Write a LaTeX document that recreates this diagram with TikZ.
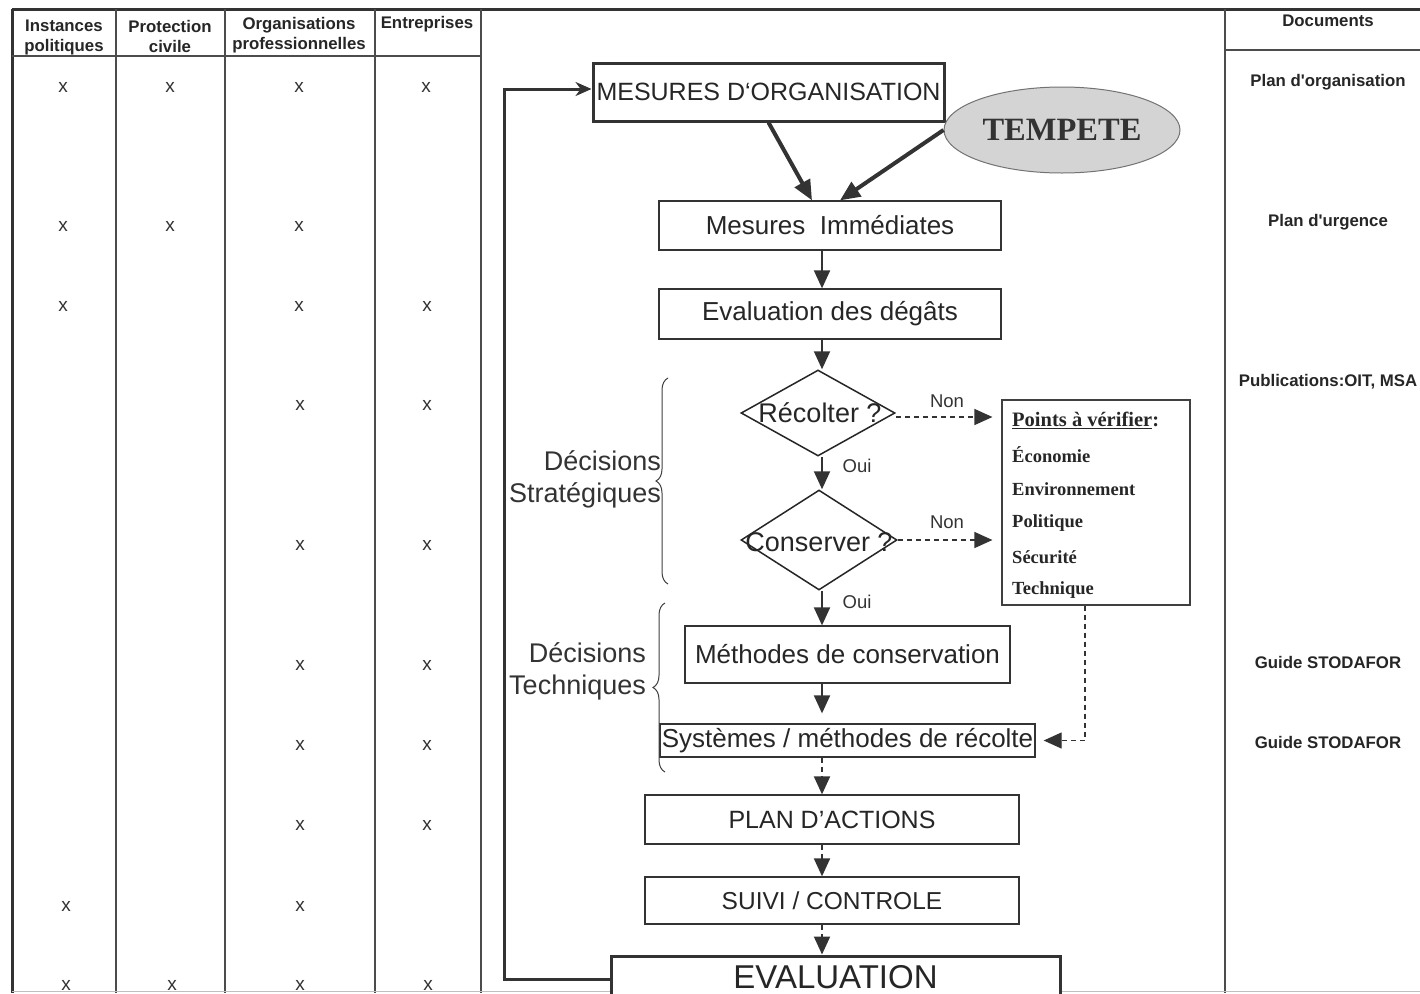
\documentclass[tikz,border=0pt]{standalone}
\usepackage{fontspec}
\setmainfont{Liberation Sans}
\newfontfamily\serifpts{Liberation Serif}
\usetikzlibrary{arrows.meta,shapes.geometric,decorations.pathreplacing,calc}
\begin{document}
\begin{tikzpicture}[x=1pt,y=-1pt,
  col/.style={draw=black!70, line width=1.2pt},
  hdr/.style={font=\fontsize{16.8}{20}\selectfont\bfseries, align=center, text=black!85, inner sep=0pt},
  mk/.style={font=\fontsize{19}{19}\selectfont, text=black!80, inner sep=0pt},
  docu/.style={font=\fontsize{16.8}{20}\selectfont\bfseries, text=black!85, inner sep=0pt},
  fbox/.style={draw=black!80, line width=1.3pt, fill=white, inner sep=0pt, font=\fontsize{26}{30}\selectfont, text=black!85},
  tbox/.style={fbox, line width=3pt},
  dia/.style={diamond, draw=black!85, line width=1.5pt, inner sep=0pt},
  arr/.style={-{Triangle[length=18pt,width=16pt]}, line width=2pt, draw=black!80},
  darr/.style={arr, dash pattern=on 5pt off 4pt},
  big/.style={-{Triangle[length=20pt,width=17pt]}, line width=4pt, draw=black!80},
  small/.style={font=\fontsize{18.5}{18.5}\selectfont, text=black!80, inner sep=0pt},
  pitem/.style={font=\serifpts\fontsize{18.5}{18.5}\selectfont\bfseries, text=black!85, anchor=west, inner sep=0pt},
  dec/.style={font=\fontsize{27}{32}\selectfont, text=black!80, align=right, anchor=east, inner sep=0pt},
  dtxt/.style={font=\fontsize{27}{27}\selectfont, text=black!85, inner sep=0pt},
  brc/.style={draw=black!75, line width=1pt, decorate, decoration={brace, amplitude=12pt}}
]
\useasboundingbox (0,0) rectangle (1420,993);
\clip (0,0) rectangle (1420,993);
\fill[white] (0,0) rectangle (1420,993);

% table frame
\draw[draw=black!80, line width=3pt] (12,9) -- (1420,9);
\draw[draw=black!80, line width=3pt] (12,9) -- (12,993);
\foreach \cx in {116,225,375,481,1225} \draw[col] (\cx,9) -- (\cx,993);
\draw[col] (12,56) -- (481,56);
\draw[col] (1225,50) -- (1420,50);
\draw[draw=black!25, line width=1pt] (12,991) -- (1420,991);

% headers
\node[hdr] (h1) at (64,37) {Instances\\politiques};
\node[hdr] (h2) at (170,36) {Protection\\civile};
\node[hdr] (h3) at (299,35) {Organisations\\professionnelles};
\node[hdr] (h4) at (427,24) {Entreprises};
\node[hdr] (h5) at (1328,21) {Documents};

% x marks
\foreach \yy/\cols in {87/{63,170,299,426}, 226/{63,170,299}, 306/{63,299,427}, 405/{300,427}, 545/{300,427}, 665/{300,427}, 745/{300,427}, 825/{300,427}, 906/{66,300}, 985/{66,172,300,428}}{
  \foreach \xx in \cols { \node[mk] at (\xx,\yy) {x}; }
}

% documents
\node[docu] (d1) at (1328,82) {Plan d\textquotesingle organisation};
\node[docu] (d2) at (1328,222) {Plan d\textquotesingle urgence};
\node[docu] (d3) at (1328,382) {Publications:OIT, MSA};
\node[docu] (d4) at (1328,662) {Guide STODAFOR};
\node[docu] (d5) at (1328,742) {Guide STODAFOR};

% flow
\coordinate (ax) at (822,0);
\node[tbox, minimum width=351, minimum height=58, font=\fontsize{25}{25}\selectfont] (mo) at (768.5,92) {MESURES D‘ORGANISATION};
\node[ellipse, draw=black!55, line width=1pt, fill=black!17, minimum width=236, minimum height=86, inner sep=0pt,
      font=\serifpts\fontsize{32.5}{32.5}\selectfont\bfseries, text=black!80] (tp) at (1062,130) {TEMPETE};
\node[fbox, minimum width=342, minimum height=49] (mi) at (830,225.5) {Mesures\ \ Immédiates};
\node[fbox, minimum width=342, minimum height=50] (ed) at (830,314) {Evaluation des dégâts};
\node[dia, minimum width=154, minimum height=86] (rec) at (818,413) {};
\node[dtxt] (rect) at (820,413) {Récolter ?};
\node[dia, minimum width=156, minimum height=100] (con) at (819,540) {};
\node[dtxt] (cont) at (819,542) {Conserver ?};
\node[fbox, minimum width=325, minimum height=57] (mc) at (847.5,654.5) {Méthodes de conservation};
\node[fbox, minimum width=375, minimum height=33] (sy) at (847.5,740.5) {Systèmes / méthodes de récolte};
\node[fbox, minimum width=374, minimum height=49, font=\fontsize{25}{25}\selectfont] (pa) at (832,819.5) {PLAN D’ACTIONS};
\node[fbox, minimum width=374, minimum height=47, font=\fontsize{24.5}{25}\selectfont] (sc) at (832,900.5) {SUIVI / CONTROLE};
\node[tbox, minimum width=449, minimum height=50] (evl) at (835.5,981) {};
\node[font=\fontsize{33}{33}\selectfont, text=black!85, inner sep=0pt] (evlt) at (835.5,977) {EVALUATION};

% points a verifier
\node[draw=black!75, line width=1.2pt, minimum width=188, minimum height=205, inner sep=0pt] (pv) at (1096,502.5) {};
\node[pitem, font=\serifpts\fontsize{20.5}{20.5}\selectfont\bfseries] (p0) at (1012,420) {\underline{Points à vérifier}:};
\node[pitem] (p1) at (1012,455) {Économie};
\node[pitem] (p2) at (1012,489) {Environnement};
\node[pitem] (p3) at (1012,523) {Politique};
\node[pitem] (p4) at (1012,557) {Sécurité};
\node[pitem] (p5) at (1012,590) {Technique};

% arrows
\draw[big] (mo.south) -- ([xshift=-18pt]mi.north);
\draw[big] (tp.west) -- ([xshift=10pt]mi.north);
\draw[arr] (mi.south -| ax) -- (ed.north -| ax);
\draw[arr] (ed.south -| ax) -- (rec.north -| ax);
\draw[arr] (rec.south -| ax) -- (con.north -| ax);
\draw[arr] (con.south -| ax) -- (mc.north -| ax);
\draw[arr] (mc.south -| ax) -- ([yshift=10pt]sy.north -| ax);
\draw[darr] (sy.south -| ax) -- (pa.north -| ax);
\draw[darr] (pa.south -| ax) -- (sc.north -| ax);
\draw[darr] (sc.south -| ax) -- (evl.north -| ax);
\node[small] (oui1) at (857,466) {Oui};
\node[small] (oui2) at (857,602) {Oui};

\draw[darr, line width=1.3pt] ([yshift=-4pt]rec.east) -- ([xshift=-9pt,yshift=-4pt]pv.west |- rec.east);
\draw[darr, line width=1.3pt] (con.east) -- ([xshift=-9pt]pv.west |- con.east);
\node[small] (non1) at (947,401) {Non};
\node[small] (non2) at (947,522) {Non};

\coordinate (dx) at (1085,0);
\draw[darr, line width=1.3pt] (pv.south -| dx) |- ([xshift=8pt]sy.east);

% feedback loop
\draw[-{Stealth[length=16pt,width=14pt]}, line width=3pt, draw=black!80] ([yshift=2pt]evl.west) -- ++(-105,0) |- ([yshift=3pt]mo.west);

% braces and labels
\draw[brc] (668,584) -- (668,378);
\draw[brc] (665,772) -- (665,603);
\node[dec] (ds) at (661,479) {Décisions\\Stratégiques};
\node[dec] (dt) at (646,671) {Décisions\\Techniques};
\end{tikzpicture}
\end{document}
